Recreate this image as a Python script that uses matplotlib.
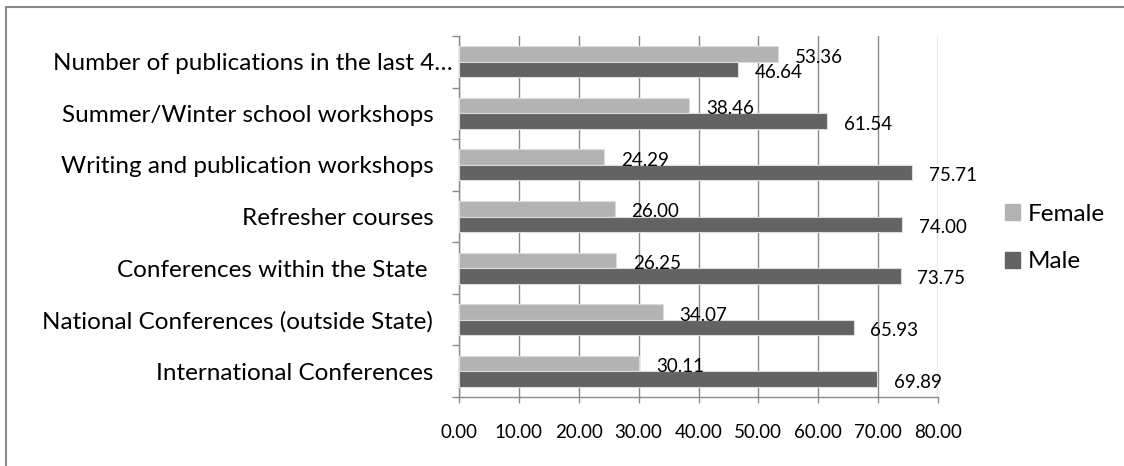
import matplotlib
matplotlib.use("Agg")
import matplotlib.pyplot as plt
import matplotlib.transforms as mtransforms
from matplotlib.lines import Line2D
from matplotlib.patches import Patch
import numpy as np

plt.rcParams['font.family'] = ['Lato', 'DejaVu Sans']

categories = [
    "International Conferences",
    "National Conferences (outside State)",
    "Conferences within the State ",
    "Refresher courses",
    "Writing and publication workshops",
    "Summer/Winter school workshops",
    "Number of publications in the last 4…",
]
female = [30.11, 34.07, 26.25, 26.00, 24.29, 38.46, 53.36]
male = [69.89, 65.93, 73.75, 74.00, 75.71, 61.54, 46.64]
xticks = [0, 10, 20, 30, 40, 50, 60, 70, 80]

c_female = "#b3b3b3"
c_male = "#636363"
grid_c = "#8a8a8a"

fig = plt.figure(figsize=(11.24, 4.66), dpi=100)
ax = fig.add_axes([459 / 1124, 1 - 397 / 466, (938 - 459) / 1124, (397 - 36) / 466])

y = np.arange(len(categories))
h = 0.3
ax.barh(y + h / 2, female, height=h, color=c_female, edgecolor="#dcdcdc", linewidth=0.8, label="Female", zorder=3)
ax.barh(y - h / 2, male, height=h, color=c_male, edgecolor="#dcdcdc", linewidth=0.8, label="Male", zorder=3)

# value labels to the right of each bar
for yi, f, m in zip(y, female, male):
    ax.annotate(f"{f:.2f}", (f, yi + h / 2 - 0.06), xytext=(12, 0), textcoords="offset points",
                va="center", ha="left", fontsize=13.5, color="black", zorder=4)
    ax.annotate(f"{m:.2f}", (m, yi - h / 2 - 0.06), xytext=(12, 0), textcoords="offset points",
                va="center", ha="left", fontsize=13.5, color="black", zorder=4)

ax.set_xlim(0, 80)
ax.set_ylim(-0.5, len(categories) - 0.5)
ax.set_xticks(xticks)
ax.set_xticklabels([f"{v:.2f}" for v in xticks], fontsize=13.5)
ax.set_yticks(y)
ax.set_yticklabels(categories, fontsize=17.5)
ax.set_yticks(np.arange(-0.5, len(categories)), minor=True)
ax.tick_params(axis="y", which="major", length=0, pad=18.5)
ax.tick_params(axis="y", which="minor", length=5, color=grid_c, width=1)
ax.tick_params(axis="x", length=4.3, color=grid_c, width=1, pad=15)

# the truncated long label sits closer to the axis
long_lbl = ax.get_yticklabels()[-1]
long_lbl.set_transform(long_lbl.get_transform() +
                       mtransforms.ScaledTranslation(19 / 100, 0, fig.dpi_scale_trans))

ax.grid(axis="x", color=grid_c, linewidth=1, zorder=0)
for side in ["top", "right"]:
    ax.spines[side].set_visible(False)
for side in ["left", "bottom"]:
    ax.spines[side].set_color(grid_c)
    ax.spines[side].set_linewidth(1)

handles = [Patch(color=c_female, label="Female"), Patch(color=c_male, label="Male")]
fig.legend(handles=handles, loc="center left", bbox_to_anchor=(1005 / 1124, 1 - 238 / 466),
           frameon=False, fontsize=17.5, handlelength=0.62, handleheight=0.62,
           handletextpad=0.3, labelspacing=1.1, borderaxespad=0, borderpad=0)

# chart area border
fig.add_artist(Line2D([6.5 / 1124, 6.5 / 1124], [0, 1 - 6.5 / 466], color="#888888", linewidth=1.5))
fig.add_artist(Line2D([6.5 / 1124, 1], [1 - 6.5 / 466, 1 - 6.5 / 466], color="#888888", linewidth=1.5))

fig.savefig("out.png", dpi=100, facecolor="white")
